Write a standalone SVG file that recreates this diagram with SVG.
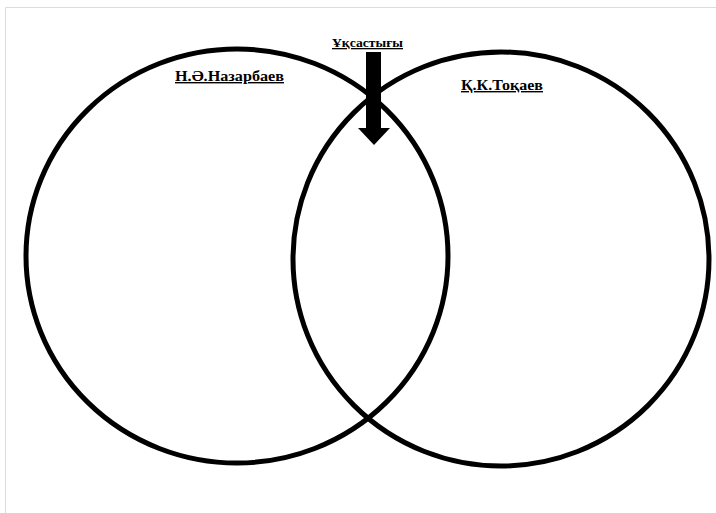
<svg xmlns="http://www.w3.org/2000/svg" width="716" height="513" viewBox="0 0 716 513">
<style>
.c{fill:none;stroke:#000;stroke-width:5}
.t{font-family:"Liberation Serif","DejaVu Serif",serif;font-weight:bold;fill:#000;text-decoration:underline}
</style>
<rect width="716" height="513" fill="#fff"/>
<path d="M5.5 513V7.5H716" fill="none" stroke="#dcdcdc" stroke-width="1"/>
<g id="circle-nazarbayev"><ellipse class="c" cx="237" cy="256" rx="211" ry="207"/><text class="t" x="175" y="81" font-size="14" textLength="109" lengthAdjust="spacingAndGlyphs">Н.Ә.Назарбаев</text></g>
<g id="circle-tokayev"><ellipse class="c" cx="501" cy="259" rx="208" ry="207"/><text class="t" x="461" y="90" font-size="14" textLength="82" lengthAdjust="spacingAndGlyphs">Қ.К.Тоқаев</text></g>
<g id="similarity"><text class="t" x="332" y="47" font-size="13" textLength="71" lengthAdjust="spacingAndGlyphs">Ұқсастығы</text></g>
<g id="connectors"><polygon points="366,52 381,52 381,128 390,128 374,145 358,128 366,128" fill="#000"/></g>
</svg>
